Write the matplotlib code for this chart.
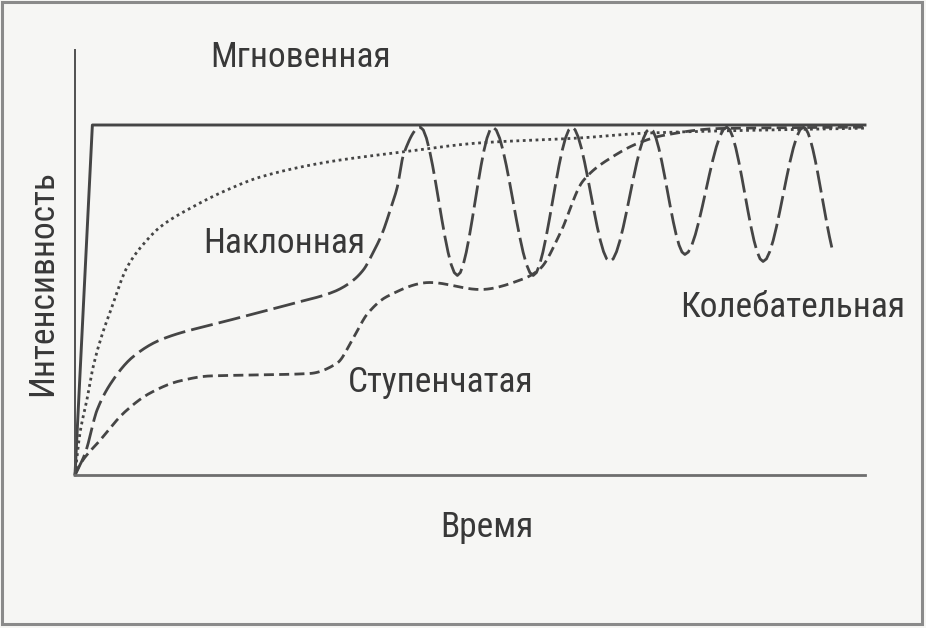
import numpy as np
import matplotlib
matplotlib.use('Agg')
import matplotlib.pyplot as plt
from matplotlib.patches import Rectangle

plt.rcParams['font.family'] = ['Roboto Condensed', 'Liberation Sans Narrow', 'Roboto', 'DejaVu Sans']

# Мгновенная (сплошная)
x_instant = [0, 2.2, 100]
y_instant = [0, 100, 100]

# Наклонная (точки)
x_slope = [0, 0.63, 1.5, 2.3, 3.5, 4.4, 6.6, 9.1, 10.8, 14.9, 19.2, 23.4, 31.9, 41.5,
           51.3, 63.9, 72.4, 100]
y_slope = [0, 12, 21.4, 30.9, 40.6, 46.3, 59.4, 67.1, 70.9, 76.6, 81.4, 85.1, 89.4, 92.3,
           94.9, 96.3, 97.7, 99.1]

# Колебательная (длинный штрих)
x_osc = [0, 1.3, 2.8, 4.8, 7.3, 10.8, 19.2, 27.6, 32.7, 34.8, 36.5, 37.7, 38.9, 39.9, 40.8,
         41.6, 43.7, 48.4, 52.9, 58.0, 62.9, 67.7, 72.8, 77.2, 82.5, 87.1, 92.2, 95.8]
y_osc = [0, 6.3, 18.6, 27.1, 33.7, 38.6, 44, 49, 52.3, 54.9, 58.6, 63.4, 69.1, 75.7, 82.3,
         91.7, 99.4, 57, 99.4, 57, 99.4, 61, 99, 63, 99.4, 61, 99.4, 65]

# Ступенчатая (короткий штрих)
x_step = [0, 0.6, 3.2, 6.3, 9.5, 13.3, 17.1, 23.4, 29.7, 33.2, 35.2, 37.0, 39.5, 44.9, 51.3,
          56.7, 58.9, 61.4, 64.3, 68.1, 71.5, 74.4, 81.6, 100]
y_step = [0, 2.9, 10, 18, 23.4, 26.9, 28.3, 28.6, 29, 32, 39, 46, 51, 55, 53,
          56, 59, 69, 84, 91, 95, 97, 99, 99.4]

labels = {
    'Мгновенная': (210, 67),
    'Наклонная': (203, 253),
    'Ступенчатая': (348, 392),
    'Колебательная': (680, 317),
    'Время': (440, 537),
}


def smooth(xs, ys, n=12):
    # monotone cubic (Fritsch-Carlson) через заданные точки
    x = np.asarray(xs, float)
    y = np.asarray(ys, float)
    h = np.diff(x)
    d = np.diff(y) / h
    m = np.zeros_like(y)
    m[0], m[-1] = d[0], d[-1]
    for i in range(1, len(y) - 1):
        if d[i - 1] * d[i] > 0:
            w1 = 2 * h[i] + h[i - 1]
            w2 = h[i] + 2 * h[i - 1]
            m[i] = (w1 + w2) / (w1 / d[i - 1] + w2 / d[i])
    px, py = [], []
    for i in range(len(h)):
        t = np.linspace(0, 1, n, endpoint=False)
        h00 = 2 * t**3 - 3 * t**2 + 1
        h10 = t**3 - 2 * t**2 + t
        h01 = -2 * t**3 + 3 * t**2
        h11 = t**3 - t**2
        px.extend(x[i] + t * h[i])
        py.extend(h00 * y[i] + h10 * h[i] * m[i] + h01 * y[i + 1] + h11 * h[i] * m[i + 1])
    px.append(x[-1])
    py.append(y[-1])
    return px, py


W, H = 926, 628
fig = plt.figure(figsize=(W / 100, H / 100), dpi=100, facecolor='#f6f6f4')
ax = fig.add_axes([75 / W, 1 - 475 / H, 790 / W, 425 / H])
ax.set_facecolor('none')
ax.set_xlim(0, 100)
ax.set_ylim(0, 425 / 3.5)
for s in ['top', 'right']:
    ax.spines[s].set_visible(False)
ax.spines['left'].set_color('#505050')
ax.spines['left'].set_linewidth(1.4)
ax.spines['bottom'].set_color('#6e6e6e')
ax.spines['bottom'].set_linewidth(2.0)
ax.set_xticks([])
ax.set_yticks([])

line_col = '#454545'
ax.plot(x_instant, y_instant, color=line_col, lw=2.1, clip_on=False)

sx, sy = smooth(x_slope, y_slope)
ax.plot(sx, sy, color=line_col, lw=2.0, dashes=(1, 1.3), clip_on=False)

ox, oy = smooth(x_osc, y_osc)
ax.plot(ox, oy, color=line_col, lw=2.0, dashes=(8, 2.2), clip_on=False)

tx, ty = smooth(x_step, y_step)
ax.plot(tx, ty, color=line_col, lw=2.0, dashes=(3.6, 1.9), clip_on=False)

txt_col = '#383838'
fs = 25.5
for name, (lx, ly) in labels.items():
    fig.text(lx / W, 1 - ly / H, name, fontsize=fs, color=txt_col,
             ha='left', va='baseline')

fig.text(43 / W, 1 - 283 / H, 'Интенсивность', fontsize=fs, color=txt_col,
         rotation=90, ha='center', va='center')

fig.patches.append(Rectangle((2 / W, 4 / H), 920 / W, 622 / H, transform=fig.transFigure,
                             fill=False, edgecolor='#8a8a8a', lw=2.2))

fig.savefig('out.png', dpi=100, facecolor=fig.get_facecolor())
